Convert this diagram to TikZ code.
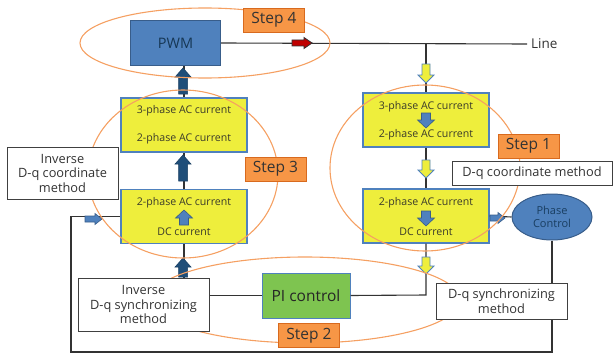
\documentclass[tikz,border=0pt]{standalone}
\usepackage{fontspec}
\setmainfont{Open Sans}
\usetikzlibrary{shapes.geometric}
\definecolor{pwmblue}{HTML}{4F81BD}
\definecolor{pwmedge}{HTML}{385D8A}
\definecolor{ybox}{HTML}{EEEE3C}
\definecolor{orng}{HTML}{F79646}
\definecolor{orngedge}{HTML}{D86A1E}
\definecolor{ell}{HTML}{F5A062}
\definecolor{pigreen}{HTML}{7EC450}
\definecolor{navy}{HTML}{1F4E79}
\definecolor{darkred}{HTML}{C00000}
\definecolor{txt}{HTML}{3A3A2A}
\tikzset{
  pics/barr/.style n args={4}{code={
    \path[pic actions] (0,-#2) -- (#1-#4,-#2) -- (#1-#4,-#3) -- (#1,0) -- (#1-#4,#3) -- (#1-#4,#2) -- (0,#2) -- cycle;}},
  ybox/.style={draw=pwmblue, line width=1.2pt, fill=ybox, minimum width=126pt, minimum height=54pt, inner sep=0pt},
  wbox/.style={draw=black!75, line width=0.6pt, fill=white, align=center, font=\fontsize{12.8}{14.5}\selectfont, text=black!80, inner sep=0pt},
  steplbl/.style={draw=orngedge, line width=0.8pt, fill=orng, minimum height=24pt, minimum width=61pt, inner sep=0pt, font=\fontsize{15.5}{17}\selectfont, text=black!80},
  boxtxt/.style={font=\fontsize{10.6}{12}\selectfont, text=txt, inner sep=0pt},
  conn/.style={draw=black!80, line width=1.1pt},
  ellipsestyle/.style={draw=ell, line width=1.1pt},
  yarr/.style={fill=ybox, draw=pwmblue, line width=0.8pt},
  narr/.style={fill=navy, draw=navy!80!black, line width=0.5pt},
  barrs/.style={fill=pwmblue, draw=pwmedge, line width=0.6pt},
  rarr/.style={fill=darkred, draw=black!80, line width=0.8pt}
}
\begin{document}
\begin{tikzpicture}[x=1pt,y=-1pt]
\useasboundingbox (0,0) rectangle (615,353);
% main nodes
\node[draw=pwmedge, line width=1pt, fill=pwmblue, minimum width=90pt, minimum height=44pt, inner sep=0pt, font=\fontsize{14.5}{16}\selectfont, text=navy!70!black] (pwm) at (175.5,43) {PWM};
\node[ybox] (L1) at (184,125) {};
\node[ybox] (L2) at (184,216.5) {};
\node[ybox] (R1) at (426,120) {};
\node[ybox] (R2) at (426,216) {};
\node[ellipse, draw=pwmedge, line width=1pt, fill=pwmblue, minimum width=80pt, minimum height=46pt, inner sep=0pt, align=center, font=\fontsize{11}{13}\selectfont, text=navy!80!black] (phase) at (552,217) {Phase\\Control};
\node[draw=pwmblue, line width=1pt, fill=pigreen, minimum width=88pt, minimum height=45pt, inner sep=0pt, font=\fontsize{15.5}{17}\selectfont, text=black!85] (pi) at (306,295.5) {PI control};
\coordinate (lineend) at (527,44);
\coordinate (cR) at (426,44);
\coordinate (bl) at (71,352);
\coordinate (br) at (552,352);
\coordinate (turn) at (426,295);
% box texts
\node[boxtxt] (l1a) at (184,111) {3-phase AC current};
\node[boxtxt] (l1b) at (184,139) {2-phase AC current};
\node[boxtxt] (l2a) at (184,203) {2-phase AC current};
\node[boxtxt] (l2b) at (184,232) {DC current};
\node[boxtxt] (r1a) at (426,107) {3-phase AC current};
\node[boxtxt] (r1b) at (426,135) {2-phase AC current};
\node[boxtxt] (r2a) at (426,203) {2-phase AC current};
\node[boxtxt] (r2b) at (426,232) {DC current};
% connectors
\draw[conn] (pwm.east) -- (lineend);
\draw[conn] (cR) -- (R1.north);
\draw[conn] (R1.south) -- (R2.north);
\draw[conn] (R2.south) -- (turn) -- (pi.east);
\draw[conn] (pi.west) -- (pi.west -| {(209,0)});
\draw[conn] (L1.north) -- (L1.north |- pwm.south);
\draw[conn] (L2.north) -- (L1.south);
\draw[conn] (L2.south) -- (L2.south |- {(0,278)});
\draw[conn] (R2.east) -- (phase.west);
\draw[conn] (phase.south) -- (br) -- (bl) -- (bl |- L2.west) -- (L2.west);
% block arrows
\pic[rarr] at (292,43) {barr={20}{3}{5.5}{8}};
\pic[yarr, rotate=-90] at (426,64) {barr={19}{4}{8}{8}};
\pic[yarr, rotate=-90] at (426,160) {barr={18}{4}{8}{8}};
\pic[yarr, rotate=-90] at (426,257) {barr={17}{4}{8}{8}};
\pic[narr, rotate=90] at (183,94) {barr={26}{4.5}{8}{9}};
\pic[narr, rotate=90] at (183,181) {barr={26}{4.5}{8}{9}};
\pic[narr, rotate=90] at (183,277) {barr={19}{4.5}{8}{9}};
\pic[barrs, rotate=-90] at (426,113) {barr={15}{4.5}{8.5}{8}};
\pic[barrs, rotate=-90] at (426,211) {barr={15}{4.5}{8.5}{8}};
\pic[barrs, rotate=90] at (184,225) {barr={15}{4.5}{8.5}{8}};
\pic[barrs] at (490,218) {barr={15}{3}{5.5}{7}};
\pic[barrs] at (85,219) {barr={17}{3}{5.5}{7}};
% ellipses
\draw[ellipsestyle] (205,43) ellipse [x radius=125, y radius=35];
\draw[ellipsestyle] (183,174) ellipse [x radius=95, y radius=84];
\draw[ellipsestyle] (425,168) ellipse [x radius=95, y radius=83];
\draw[ellipsestyle] (305,300) ellipse [x radius=155, y radius=43];
% labels on top
\node[steplbl] (s4) at (274,20) {Step 4};
\node[steplbl] (s3) at (275.5,169) {Step 3};
\node[steplbl] (s1) at (528.5,146) {Step 1};
\node[steplbl] (s2) at (309,335.5) {Step 2};
\node[wbox, minimum width=111pt, minimum height=52pt] (invc) at (62.5,173) {Inverse\\D-q coordinate\\method};
\node[wbox, minimum width=131pt, minimum height=53pt] (invs) at (143.5,304.5) {Inverse\\D-q synchronizing\\method};
\node[wbox, minimum width=131pt, minimum height=36pt] (dqs) at (501.5,301) {D-q synchronizing\\method};
\node[wbox, minimum width=160pt, minimum height=24pt] (dqc) at (532,173) {D-q coordinate method};
\node[anchor=west, inner sep=0pt, font=\fontsize{13.5}{15}\selectfont, text=black!80] (line) at (531,44) {Line};
\end{tikzpicture}
\end{document}
